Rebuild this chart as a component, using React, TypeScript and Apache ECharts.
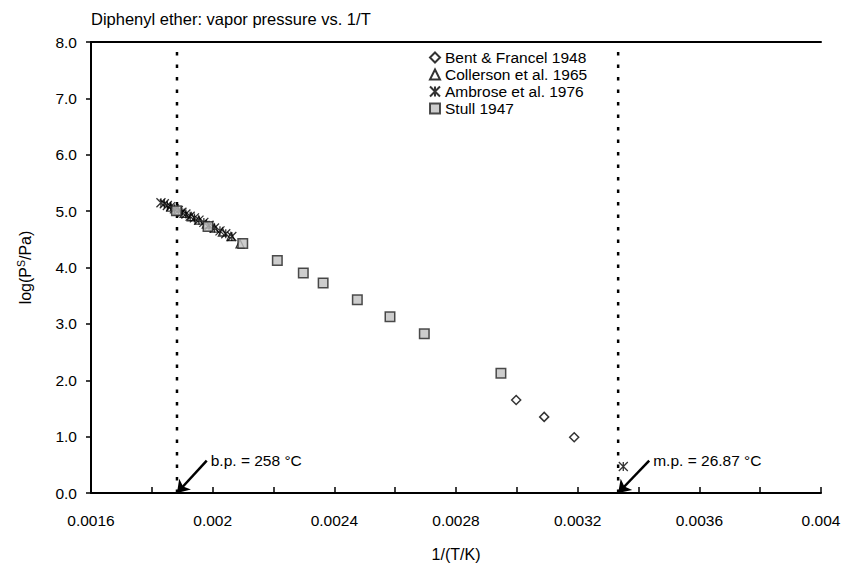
import React, { useEffect, useRef } from "react";
import * as echarts from "echarts";

const titleText = "Diphenyl ether: vapor pressure vs. 1/T";
const xName = "1/(T/K)";

const bentX = [0.0029978, 0.0030899, 0.0031886];
const bentY = [1.65, 1.35, 0.99];

const collersonX = [0.001862, 0.001884, 0.001906, 0.00193, 0.001954, 0.001979, 0.002005, 0.002032, 0.00206, 0.00209];
const collersonY = [5.07, 5.01, 4.96, 4.9, 4.84, 4.77, 4.7, 4.63, 4.55, 4.42];

const ambroseX = [0.00183, 0.001841, 0.001851, 0.001862, 0.001874, 0.001887, 0.001899, 0.001912, 0.001926, 0.00194, 0.001955, 0.001971, 0.001988, 0.002006, 0.002024, 0.002043, 0.002063, 0.00335];
const ambroseY = [5.15, 5.13, 5.1, 5.08, 5.04, 5.01, 4.98, 4.95, 4.91, 4.88, 4.84, 4.8, 4.75, 4.7, 4.65, 4.6, 4.55, 0.47];

const stullX = [0.0018809, 0.0019847, 0.0020989, 0.0022126, 0.002298, 0.0023632, 0.0024756, 0.002583, 0.0026958, 0.0029477];
const stullY = [5.006, 4.727, 4.426, 4.125, 3.903, 3.727, 3.426, 3.125, 2.824, 2.125];

const bpX = 0.0018827;
const mpX = 0.0033331;
const bpLabel = "b.p. = 258 °C";
const mpLabel = "m.p. = 26.87 °C";
const bpTail = [0.0019805, 0.573];
const mpTail = [0.0034352, 0.573];

const legendNames = ["Bent & Francel 1948", "Collerson et al. 1965", "Ambrose et al. 1976", "Stull 1947"];

const FONT = "'Liberation Sans', Arial, sans-serif";
const zip = (xs: number[], ys: number[]) => xs.map((x, i) => [x, ys[i]]);

export default function App() {
  const ref = useRef<HTMLDivElement>(null);
  useEffect(() => {
    if (!ref.current) return;
    const chart = echarts.init(ref.current, undefined, { renderer: "svg" });
    const arrowStyle = { color: "#000", width: 2.5, type: "solid" as const };
    chart.setOption({
      animation: false,
      textStyle: { fontFamily: FONT, color: "#000" },
      title: {
        text: titleText,
        left: 91,
        top: 10,
        padding: 0,
        textStyle: { fontSize: 16.5, fontWeight: "normal", color: "#000", fontFamily: FONT },
      },
      legend: {
        data: legendNames,
        orient: "vertical",
        left: 429,
        top: 49,
        padding: 0,
        itemWidth: 10,
        itemHeight: 10,
        itemGap: 0,
        textStyle: { fontSize: 15.5, lineHeight: 17, color: "#000", fontFamily: FONT },
      },
      grid: { left: 91, right: 29, top: 42, bottom: 80, containLabel: false },
      xAxis: [
        {
          type: "value",
          min: 0.0016,
          max: 0.004,
          interval: 0.0002,
          name: xName,
          nameLocation: "middle",
          nameGap: 53,
          nameTextStyle: { fontSize: 16, color: "#000", fontFamily: FONT },
          axisLine: { onZero: false, lineStyle: { color: "#000", width: 2 } },
          axisTick: { inside: true, length: 6, lineStyle: { color: "#000", width: 1.5 } },
          splitLine: { show: false },
          axisLabel: {
            margin: 19,
            fontSize: 15.5,
            color: "#000",
            fontFamily: FONT,
            formatter: (v: number, i: number) => (i % 2 === 0 ? parseFloat(v.toFixed(4)).toString() : ""),
          },
        },
        {
          type: "value",
          position: "top",
          min: 0.0016,
          max: 0.004,
          axisLine: { onZero: false, lineStyle: { color: "#000", width: 2 } },
          axisTick: { show: false },
          axisLabel: { show: false },
          splitLine: { show: false },
        },
      ],
      yAxis: {
        type: "value",
        min: 0,
        max: 8,
        interval: 1,
        name: "log(P{sup|S}/Pa)",
        nameLocation: "middle",
        nameGap: 56,
        nameTextStyle: {
          fontSize: 16,
          color: "#000",
          fontFamily: FONT,
          rich: { sup: { fontSize: 10.5, fontFamily: FONT, color: "#000", verticalAlign: "bottom", padding: [0, 0, 9, 0] } },
        },
        axisLine: { show: true, lineStyle: { color: "#000", width: 2 } },
        axisTick: { show: true, inside: false, length: 5, lineStyle: { color: "#000", width: 1.5 } },
        splitLine: { show: false },
        axisLabel: { margin: 14, fontSize: 15.5, color: "#000", fontFamily: FONT, formatter: (v: number) => v.toFixed(1) },
      },
      series: [
        {
          name: "bp-line",
          type: "line",
          data: [[bpX, 0], [bpX, 8]],
          showSymbol: false,
          symbol: "none",
          lineStyle: { color: "#000", width: 2.5, type: [3.5, 9] },
          z: 1,
          markLine: {
            silent: true,
            symbol: ["none", "arrow"],
            symbolSize: 12,
            label: { show: false },
            lineStyle: arrowStyle,
            data: [
              [{ coord: bpTail }, { coord: [bpX, 0] }],
              [{ coord: mpTail }, { coord: [mpX, 0] }],
            ],
          },
          markPoint: {
            silent: true,
            symbol: "circle",
            symbolSize: 0,
            data: [
              { coord: bpTail, label: { show: true, position: "right", distance: 4, formatter: bpLabel, fontSize: 15.5, color: "#000", fontFamily: FONT } },
              { coord: mpTail, label: { show: true, position: "right", distance: 4, formatter: mpLabel, fontSize: 15.5, color: "#000", fontFamily: FONT } },
            ],
          },
        },
        {
          name: "mp-line",
          type: "line",
          data: [[mpX, 0], [mpX, 8]],
          showSymbol: false,
          symbol: "none",
          lineStyle: { color: "#000", width: 2.5, type: [3.5, 9] },
          z: 1,
        },
        {
          name: legendNames[0],
          type: "scatter",
          data: zip(bentX, bentY),
          symbol: "diamond",
          symbolSize: 9,
          itemStyle: { color: "#fff", borderColor: "#000", borderWidth: 1.5 },
          z: 3,
        },
        {
          name: legendNames[1],
          type: "scatter",
          data: zip(collersonX, collersonY),
          symbol: "triangle",
          symbolSize: 8,
          itemStyle: { color: "#fff", borderColor: "#000", borderWidth: 1.3 },
          z: 3,
        },
        {
          name: legendNames[2],
          type: "scatter",
          data: zip(ambroseX, ambroseY),
          symbol: "path://M0,0L10,10M10,0L0,10M5,0L5,10",
          symbolSize: 9,
          itemStyle: { color: "#000", borderColor: "#000", borderWidth: 1.3 },
          z: 3,
        },
        {
          name: legendNames[3],
          type: "scatter",
          data: zip(stullX, stullY),
          symbol: "rect",
          symbolSize: 9.5,
          itemStyle: { color: "#c0c0c0", borderColor: "#222", borderWidth: 1.5 },
          z: 4,
        },
      ],
    });
    return () => chart.dispose();
  }, []);
  return <div ref={ref} style={{ position: "fixed", left: 0, top: 0, width: 850, height: 573, background: "#fff" }} />;
}
